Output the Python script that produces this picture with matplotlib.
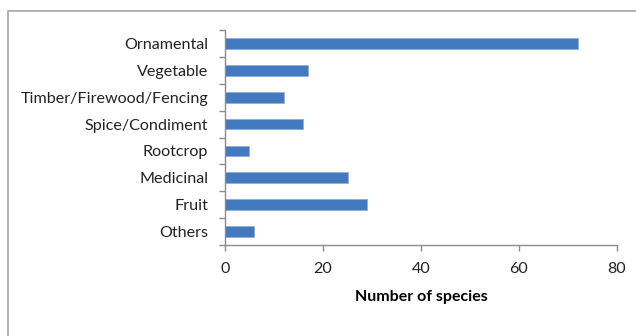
import numpy as np
import matplotlib.pyplot as plt
from matplotlib.patches import Rectangle

categories = ["Ornamental", "Vegetable", "Timber/Firewood/Fencing", "Spice/Condiment",
              "Rootcrop", "Medicinal", "Fruit", "Others"]
species = [72, 17, 12, 16, 5, 25, 29, 6]
xticks = [0, 20, 40, 60, 80]

plt.rcParams["font.family"] = ["Lato", "DejaVu Sans"]
axis_color = "#8c8c8c"

fig = plt.figure(figsize=(6.36, 3.36), dpi=100)
fig.patches.append(Rectangle((7.5 / 636, -0.1), 1.2, 1 - 11 / 336 + 0.1,
                             transform=fig.transFigure, fill=False,
                             edgecolor="#a6a6a6", linewidth=1.2))
ax = fig.add_axes([225 / 636, 1 - 245 / 336, 392 / 636, 215 / 336])

y = np.arange(len(categories))
ax.barh(y, species, height=0.4, color="#4379bf", edgecolor="#8fb0dc", linewidth=0.6)
ax.set_ylim(len(categories) - 0.5, -0.5)
ax.set_xlim(0, 80)

ax.set_yticks(y)
ax.set_yticklabels(categories, fontsize=11.6, color="#222222")
ax.set_yticks(np.arange(-0.5, len(categories)), minor=True)
ax.tick_params(axis="y", which="major", length=0, pad=12)
ax.tick_params(axis="y", which="minor", length=4, color=axis_color, width=1)

ax.set_xticks(xticks)
ax.tick_params(axis="x", length=4, color=axis_color, width=1, labelsize=11.6,
               labelcolor="#222222", pad=8)
ax.set_xlabel("Number of species", fontsize=11.5, fontweight="bold", labelpad=10)

for s in ["top", "right"]:
    ax.spines[s].set_visible(False)
for s in ["left", "bottom"]:
    ax.spines[s].set_color(axis_color)
    ax.spines[s].set_linewidth(1)

fig.savefig("out.png", dpi=100)
